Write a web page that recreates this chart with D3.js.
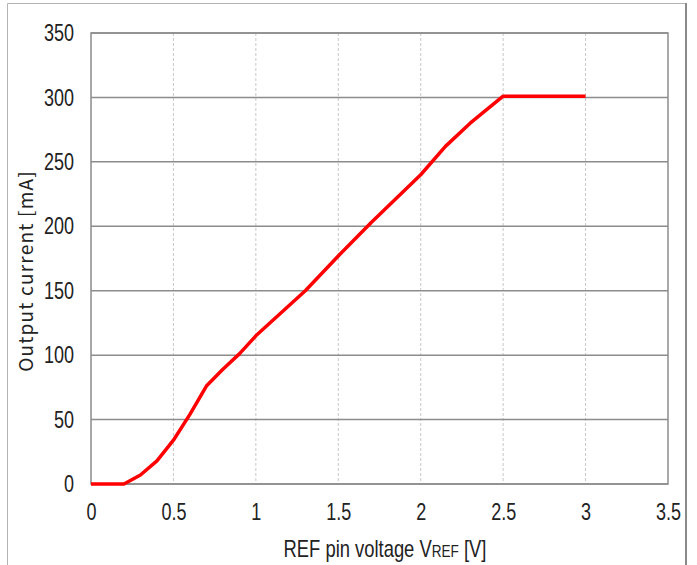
<!DOCTYPE html>
<html>
<head>
<meta charset="utf-8">
<script src="https://cdn.jsdelivr.net/npm/d3@7"></script>
<style>
  body { margin: 0; background: #fff; }
  svg { display: block; }
</style>
</head>
<body>
<svg id="chart"></svg>
<script>
// REF pin voltage [V] vs output current [mA]
const vref = [0, 0.2, 0.3, 0.4, 0.5, 0.6, 0.7, 0.8, 0.9, 1.0, 1.3, 1.5, 1.7, 2.0, 2.15, 2.3, 2.5, 3.0];
const current = [0, 0, 7, 18, 34, 54, 76, 89, 101, 115, 150, 177, 203, 240, 262, 280, 301, 301];

const xTicks = [0, 0.5, 1, 1.5, 2, 2.5, 3, 3.5];
const yTicks = [0, 50, 100, 150, 200, 250, 300, 350];

const width = 697, height = 565;
const margin = { left: 91, top: 33, right: 29, bottom: 81 };
const squeeze = 0.75;
const narrow = `scale(${squeeze},1)`;

const svg = d3.select('#chart').attr('width', width).attr('height', height);

// outer frame
svg.append('path')
  .attr('d', `M7.5,${height} V3.5 H686`)
  .attr('fill', 'none').attr('stroke', '#b4b4b4').attr('stroke-width', 1);
svg.append('line')
  .attr('x1', 686).attr('x2', 686).attr('y1', 3).attr('y2', height)
  .attr('stroke', '#8a8a8a').attr('stroke-width', 2);

const x = d3.scaleLinear().domain([0, 3.5]).range([margin.left, width - margin.right]);
const y = d3.scaleLinear().domain([0, 350]).range([height - margin.bottom, margin.top]);

// vertical dashed grid
svg.append('g')
  .selectAll('line')
  .data(xTicks.slice(1, -1))
  .enter().append('line')
    .attr('x1', d => x(d)).attr('x2', d => x(d))
    .attr('y1', y(350)).attr('y2', y(0))
    .attr('stroke', '#c8c8c8').attr('stroke-width', 1)
    .attr('stroke-dasharray', '3,2');

// horizontal solid grid
svg.append('g')
  .selectAll('line')
  .data(yTicks)
  .enter().append('line')
    .attr('x1', x(0)).attr('x2', x(3.5))
    .attr('y1', d => y(d)).attr('y2', d => y(d))
    .attr('stroke', '#8c8c8c').attr('stroke-width', 1.5);

// plot border
svg.append('rect')
  .attr('x', x(0)).attr('y', y(350))
  .attr('width', x(3.5) - x(0)).attr('height', y(0) - y(350))
  .attr('fill', 'none').attr('stroke', '#8c8c8c').attr('stroke-width', 1.5);

// axes (labels only), squeezed to look like a narrow face
const xAxis = d3.axisBottom(x).tickValues(xTicks).tickSize(0).tickPadding(19)
  .tickFormat(d => d);
const gx = svg.append('g').attr('transform', `translate(0,${y(0)})`).call(xAxis);
gx.select('.domain').remove();
gx.selectAll('text')
  .attr('font-family', '"Liberation Sans", Arial, sans-serif')
  .attr('font-size', 24).attr('fill', '#222')
  .attr('transform', narrow);

const yAxis = d3.axisLeft(y).tickValues(yTicks).tickSize(0).tickPadding(17)
  .tickFormat(d => d);
const gy = svg.append('g').attr('transform', `translate(${x(0)},0)`).call(yAxis);
gy.select('.domain').remove();
gy.selectAll('text')
  .attr('x', -17 / squeeze)
  .attr('font-family', '"Liberation Sans", Arial, sans-serif')
  .attr('font-size', 24).attr('fill', '#222')
  .attr('transform', narrow);

// data line
const line = d3.line()
  .x((d, i) => x(vref[i]))
  .y(d => y(d));

svg.append('path')
  .datum(current)
  .attr('d', line)
  .attr('fill', 'none')
  .attr('stroke', '#ff0000')
  .attr('stroke-width', 3.5)
  .attr('stroke-linejoin', 'round');

// x label
const xl = svg.append('text')
  .attr('transform', 'translate(385,557) scale(0.8,1)')
  .attr('text-anchor', 'middle')
  .attr('font-family', '"Liberation Sans", Arial, sans-serif')
  .attr('font-size', 23).attr('fill', '#222');
xl.append('tspan').text('REF pin voltage V');
xl.append('tspan').attr('font-size', 17).text('REF');
xl.append('tspan').text(' [V]');

// y label
svg.append('text')
  .attr('transform', 'translate(33,271) rotate(-90)')
  .attr('text-anchor', 'middle')
  .attr('font-family', '"Noto Sans CJK JP", "Noto Sans", sans-serif')
  .attr('font-size', 19).attr('fill', '#222')
  .attr('letter-spacing', 1.2)
  .text('Output current [mA]');
</script>
</body>
</html>
